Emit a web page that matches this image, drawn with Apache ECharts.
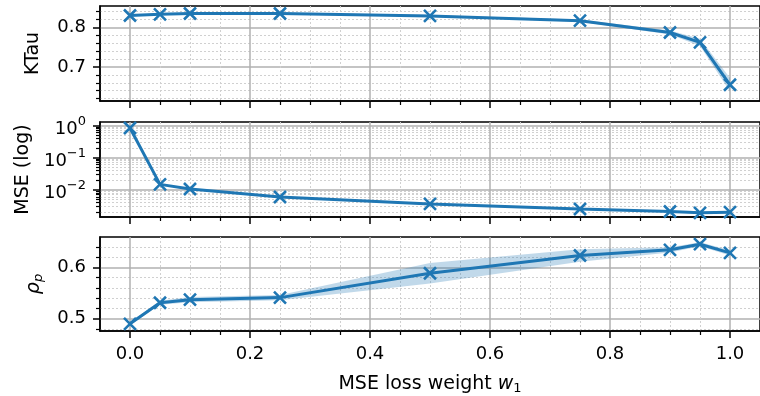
<!DOCTYPE html>
<html><head><meta charset="utf-8">
<script src="https://cdn.jsdelivr.net/npm/echarts@6/dist/echarts.min.js"></script>
<style>html,body{margin:0;padding:0;background:#fff}#c{width:760px;height:396px}</style>
</head><body><div id="c"></div>
<script>
const weights = [0, 0.05, 0.1, 0.25, 0.5, 0.75, 0.9, 0.95, 1.0];
const ktau = [0.830, 0.833, 0.835, 0.835, 0.829, 0.817, 0.787, 0.762, 0.655];
const ktauErr = [0.002, 0.002, 0.002, 0.002, 0.002, 0.003, 0.005, 0.009, 0.017];
const mse = [0.83, 0.0146, 0.0105, 0.0059, 0.0036, 0.0025, 0.0021, 0.0019, 0.0020];
const rho = [0.490, 0.531, 0.537, 0.541, 0.5885, 0.623, 0.634, 0.645, 0.628];
const rhoErr = [0.003, 0.004, 0.005, 0.005, 0.02, 0.012, 0.005, 0.004, 0.005];
const xMajorTicks = [0, 0.2, 0.4, 0.6, 0.8, 1.0];
const xMinorTicks = [0.05, 0.1, 0.15, 0.25, 0.3, 0.35, 0.45, 0.5, 0.55, 0.65, 0.7, 0.75, 0.85, 0.9, 0.95];
const ktauMajor = [0.7, 0.8];
const ktauMinor = [0.62, 0.64, 0.66, 0.68, 0.72, 0.74, 0.76, 0.78, 0.82, 0.84];
const mseMajor = [0.01, 0.1, 1];
const mseMinor = [0.002,0.003,0.004,0.005,0.006,0.007,0.008,0.009,0.02,0.03,0.04,0.05,0.06,0.07,0.08,0.09,0.2,0.3,0.4,0.5,0.6,0.7,0.8,0.9];
const rhoMajor = [0.5, 0.6];
const rhoMinor = [0.48, 0.52, 0.54, 0.56, 0.58, 0.62, 0.64];

const FONT = 'DejaVu Sans';
const BLUE = '#1f77b4';
const grids = [
  {left:100, width:669, top:6, height:95},
  {left:100, width:669, top:122, height:95},
  {left:100, width:669, top:237, height:96}
].map(g => Object.assign(g, {show:true, borderColor:'#000', borderWidth:1.5, backgroundColor:'transparent'}));

function majorAxisBase(ticks, showLabel, fmt) {
  return {
    axisLine:{show:true, onZero:false, lineStyle:{color:'#000', width:1.5}},
    axisTick:{show:true, length:7, lineStyle:{color:'#000', width:1.5}, customValues:ticks},
    axisLabel:{show:showLabel, customValues:ticks, margin:14, fontSize:18, color:'#000', fontFamily:FONT, formatter:fmt},
    splitLine:{show:true, lineStyle:{color:'#b0b0b0', width:1.5}}
  };
}
function minorAxisBase(ticks) {
  return {
    axisLine:{show:false, onZero:false},
    axisTick:{show:true, length:4, lineStyle:{color:'#000', width:1.2}, customValues:ticks},
    axisLabel:{show:false, customValues:ticks},
    splitLine:{show:true, lineStyle:{color:'#d0d0d0', width:1, type:[2,2]}}
  };
}
const nameStyle = {fontSize:19, color:'#000', fontFamily:FONT,
  rich:{i:{fontSize:19, fontStyle:'italic', fontFamily:FONT, color:'#000'}, sub:{fontSize:13, fontStyle:'italic', fontFamily:FONT, color:'#000', padding:[8,0,0,0]}}};
const xAxes = [];
for (let g = 0; g < 3; g++) {
  const maj = Object.assign({type:'value', gridIndex:g, min:-0.05, max:1.05, position:'bottom'},
    majorAxisBase(xMajorTicks, g === 2, v => v.toFixed(1)));
  if (g === 2) {
    maj.name = 'MSE loss weight {i|w}{sub|1}';
    maj.nameLocation = 'middle';
    maj.nameGap = 43;
    maj.nameTextStyle = {fontSize:19, color:'#000', fontFamily:FONT,
      rich:{i:{fontSize:19, fontStyle:'italic', fontFamily:FONT, color:'#000'}, sub:{fontSize:13, fontFamily:FONT, color:'#000', padding:[8,0,0,0]}}};
  }
  xAxes.push(maj);
  xAxes.push(Object.assign({type:'value', gridIndex:g, min:-0.05, max:1.05, position:'bottom'}, minorAxisBase(xMinorTicks)));
}
const yAxes = [
  Object.assign({type:'value', gridIndex:0, min:0.614, max:0.854, position:'left', name:'KTau', nameLocation:'middle', nameGap:57, nameTextStyle:nameStyle},
    majorAxisBase(ktauMajor, true, v => v.toFixed(1))),
  Object.assign({type:'value', gridIndex:0, min:0.614, max:0.854, position:'left'}, minorAxisBase(ktauMinor)),
  Object.assign({type:'log', logBase:10, gridIndex:1, min:Math.pow(10,-2.85), max:Math.pow(10,0.105), position:'left', name:'MSE (log)', nameLocation:'middle', nameGap:67, nameTextStyle:nameStyle},
    majorAxisBase(mseMajor, true, v => {
      const e = Math.round(Math.log10(v));
      return '{b|10}{sup|' + (e < 0 ? '\u2212' + (-e) : e) + '}';
    })),
  Object.assign({type:'log', logBase:10, gridIndex:1, min:Math.pow(10,-2.85), max:Math.pow(10,0.105), position:'left'}, minorAxisBase(mseMinor)),
  Object.assign({type:'value', gridIndex:2, min:0.476, max:0.659, position:'left', name:'{i|ρ}{sub|p}', nameLocation:'middle', nameGap:55, nameTextStyle:nameStyle},
    majorAxisBase(rhoMajor, true, v => v.toFixed(1))),
  Object.assign({type:'value', gridIndex:2, min:0.476, max:0.659, position:'left'}, minorAxisBase(rhoMinor))
];
yAxes[2].axisLabel.rich = {b:{fontSize:18, fontFamily:FONT, color:'#000', padding:[8,0,0,0]}, sup:{fontSize:13, fontFamily:FONT, color:'#000', padding:[0,0,8,0]}};

const X_SYMBOL = 'path://M0,0L10,10M10,0L0,10';
function lineSeries(vals, gi) {
  return {type:'line', xAxisIndex:gi*2, yAxisIndex:gi*2, data:weights.map((w,i)=>[w, vals[i]]),
    symbol:X_SYMBOL, symbolSize:12, showSymbol:true, z:5,
    lineStyle:{color:BLUE, width:3}, itemStyle:{color:BLUE, borderColor:BLUE, borderWidth:2.6}, animation:false};
}
function bandSeries(vals, errs, gi) {
  const lo = vals.map((v,i)=>v-errs[i]);
  const hi = vals.map((v,i)=>v+errs[i]);
  return {type:'custom', xAxisIndex:gi*2, yAxisIndex:gi*2, z:3, silent:true, animation:false,
    data: weights.map((w,i)=>[w, lo[i], hi[i]]),
    encode:{x:0, y:[1,2]},
    renderItem: function(params, api) {
      if (params.dataIndex !== 0) return;
      const pts = [];
      for (let i = 0; i < weights.length; i++) pts.push(api.coord([weights[i], lo[i]]));
      for (let i = weights.length - 1; i >= 0; i--) pts.push(api.coord([weights[i], hi[i]]));
      return {type:'polygon', shape:{points:pts}, style:{fill:'rgba(31,119,180,0.28)', stroke:null}};
    }};
}
const series = [
  bandSeries(ktau, ktauErr, 0),
  lineSeries(ktau, 0),
  lineSeries(mse, 1),
  bandSeries(rho, rhoErr, 2),
  lineSeries(rho, 2)
];
const chart = echarts.init(document.getElementById('c'), null, {renderer:'canvas'});
chart.setOption({animation:false, grid:grids, xAxis:xAxes, yAxis:yAxes, series:series});
</script></body></html>
